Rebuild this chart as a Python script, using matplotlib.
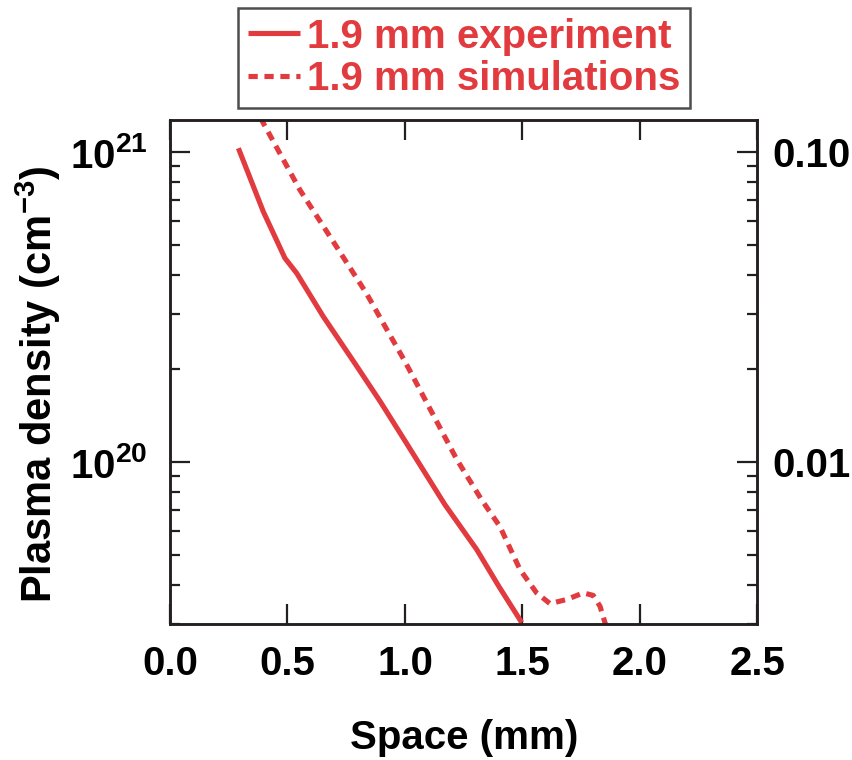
import matplotlib
matplotlib.use("Agg")
import matplotlib.pyplot as plt
from matplotlib.ticker import LogLocator, NullFormatter, FixedLocator, FixedFormatter

# ---- data ----
exp_x = [0.291, 0.397, 0.489, 0.539, 0.652, 0.787, 0.894, 1.000, 1.170, 1.305, 1.400, 1.497]
exp_y = [1.03e21, 6.43e20, 4.55e20, 4.07e20, 2.95e20, 2.08e20, 1.57e20, 1.17e20, 7.28e19, 5.22e19, 3.96e19, 3.03e19]

sim_x = [0.385, 0.553, 0.695, 0.837, 0.908, 1.000, 1.220, 1.326, 1.404, 1.489, 1.560, 1.617, 1.688, 1.759, 1.801, 1.830, 1.851, 1.860]
sim_y = [1.29e21, 7.55e20, 5.14e20, 3.49e20, 2.80e20, 2.11e20, 1.02e20, 7.55e19, 6.19e19, 4.5e19, 3.78e19, 3.49e19, 3.6e19, 3.78e19, 3.71e19, 3.42e19, 3.03e19, 2.9e19]

x_ticks = [0.0, 0.5, 1.0, 1.5, 2.0, 2.5]
x_ticklabels = ["0.0", "0.5", "1.0", "1.5", "2.0", "2.5"]
y_ticks = [1e20, 1e21]
y_ticklabels = ["10$^{20}$", "10$^{21}$"]
r_ticks = [0.01, 0.10]
r_ticklabels = ["0.01", "0.10"]
labels = ["1.9 mm experiment", "1.9 mm simulations"]

RED = "#E23B3F"
INK = "#231F20"

plt.rcParams["font.family"] = ["Liberation Sans", "DejaVu Sans"]
plt.rcParams["font.weight"] = "bold"
plt.rcParams["mathtext.fontset"] = "custom"
plt.rcParams["mathtext.rm"] = "Liberation Sans:bold"
plt.rcParams["mathtext.it"] = "Liberation Sans:bold"
plt.rcParams["mathtext.bf"] = "Liberation Sans:bold"
plt.rcParams["mathtext.default"] = "regular"

FS = 29

fig = plt.figure(figsize=(8.53, 7.6), dpi=100)
ax = fig.add_axes([170/853, 1-624/760, (757.5-170)/853, (624-119.5)/760])

l1, = ax.plot(exp_x, exp_y, color=RED, lw=3.7, solid_capstyle="butt", label=labels[0])
l2, = ax.plot(sim_x, sim_y, color=RED, lw=3.7, dashes=(1.8, 1.3), dash_capstyle="butt", label=labels[1])

ax.set_yscale("log")
ax.set_xlim(0, 2.5)
ylo, yhi = 3.0e19, 1.275e21
ax.set_ylim(ylo, yhi)

for s in ax.spines.values():
    s.set_linewidth(1.8)
    s.set_color(INK)

ax.xaxis.set_major_locator(FixedLocator(x_ticks))
ax.xaxis.set_major_formatter(FixedFormatter(x_ticklabels))
ax.yaxis.set_major_locator(FixedLocator(y_ticks))
ax.yaxis.set_major_formatter(FixedFormatter(y_ticklabels))
ax.yaxis.set_minor_locator(LogLocator(base=10, subs=range(2, 10)))
ax.yaxis.set_minor_formatter(NullFormatter())

ax.tick_params(axis="x", which="major", direction="in", length=14.5, width=1.6,
               top=True, bottom=True, color=INK, labelsize=FS, pad=15)
ax.tick_params(axis="y", which="major", direction="in", length=14.5, width=1.6,
               left=True, right=False, color=INK, labelsize=FS, pad=16)
ax.tick_params(axis="y", which="minor", direction="in", length=7.2, width=1.6,
               left=True, right=False, color=INK)

ax2 = ax.twinx()
ax2.set_yscale("log")
ax2.set_ylim(ylo / 1e22, yhi / 1e22)
ax2.yaxis.set_major_locator(FixedLocator(r_ticks))
ax2.yaxis.set_major_formatter(FixedFormatter(r_ticklabels))
ax2.yaxis.set_minor_locator(LogLocator(base=10, subs=range(2, 10)))
ax2.yaxis.set_minor_formatter(NullFormatter())
ax2.tick_params(axis="y", which="major", direction="in", length=14.5, width=1.6,
                color=INK, labelsize=FS, pad=11)
ax2.tick_params(axis="y", which="minor", direction="in", length=7.2, width=1.6, color=INK)
for s in ax2.spines.values():
    s.set_linewidth(1.8)
    s.set_color(INK)

ax.set_xlabel("Space (mm)", fontsize=FS, fontweight="bold", labelpad=26)
ax.set_ylabel("Plasma density (cm$^{-3}$)", fontsize=30, fontweight="bold")
ax.yaxis.set_label_coords(-0.182, 0.475)

leg = fig.legend(handles=[l1, l2], labels=labels, loc="center",
                 bbox_to_anchor=(464/853, 1-58/760), fontsize=FS,
                 labelcolor=RED, frameon=True, fancybox=False,
                 handlelength=1.3, handletextpad=0.15, borderpad=0.25,
                 labelspacing=0.12, borderaxespad=0)
fr = leg.get_frame()
fr.set_edgecolor(INK)
fr.set_linewidth(1.8)
for t in leg.get_texts():
    t.set_fontweight("bold")

fig.savefig("out.png", dpi=100)
